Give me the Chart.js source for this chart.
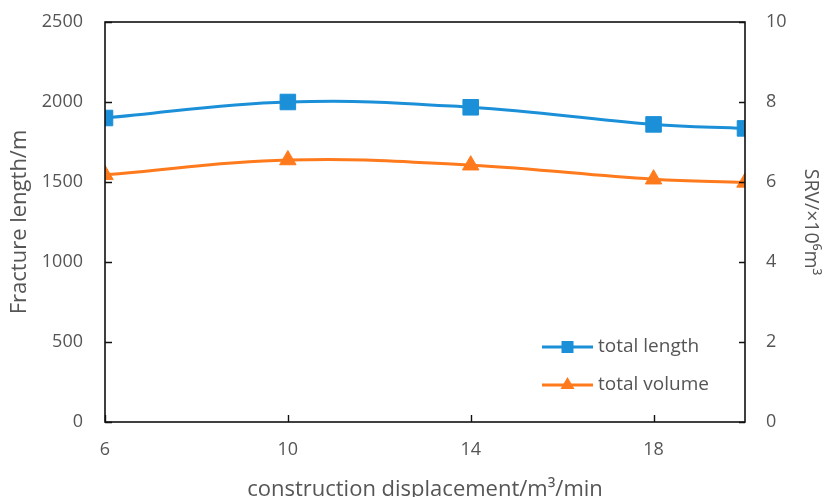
<!DOCTYPE html>
<html>
<head>
<meta charset="utf-8">
<script src="https://cdn.jsdelivr.net/npm/chart.js@4/dist/chart.umd.min.js"></script>
<style>
  html, body { margin: 0; padding: 0; background: #fff; }
  #wrap { width: 825px; height: 497px; }
</style>
</head>
<body>
<div id="wrap"><canvas id="c" width="825" height="497"></canvas></div>
<script>
// construction displacement (m³/min)
const displacement = [6, 10, 14, 18, 20];
// total fracture length (m), left axis
const totalLength = [1900, 2000, 1967, 1860, 1835];
// total stimulated volume (×10⁶ m³), right axis
const totalVolume = [6.18, 6.55, 6.42, 6.07, 5.99];

const xTicks = [6, 10, 14, 18];
const yTicks = [0, 500, 1000, 1500, 2000, 2500];
const y1Ticks = [0, 2, 4, 6, 8, 10];

const labelColor = '#555555';
const blue = '#1b90d8';
const orange = '#ff7a1c';
const FONT = 'Open Sans';

// Frame, inward tick marks and the inline legend
const framePlugin = {
  id: 'frame',
  afterDatasetsDraw(chart) {
    const { ctx, chartArea: a, scales } = chart;
    ctx.save();
    ctx.strokeStyle = '#111';
    ctx.lineWidth = 1.6;
    ctx.strokeRect(a.left, a.top, a.right - a.left, a.bottom - a.top);
    ctx.lineWidth = 1.4;
    ctx.beginPath();
    xTicks.forEach(v => {
      const px = Math.round(scales.x.getPixelForValue(v)) + 0.5;
      ctx.moveTo(px, a.bottom); ctx.lineTo(px, a.bottom - 7);
    });
    yTicks.forEach(v => {
      const py = Math.round(scales.y.getPixelForValue(v)) + 0.5;
      ctx.moveTo(a.left, py); ctx.lineTo(a.left + 7, py);
    });
    y1Ticks.forEach(v => {
      const py = Math.round(scales.y1.getPixelForValue(v)) + 0.5;
      ctx.moveTo(a.right, py); ctx.lineTo(a.right - 6, py);
    });
    ctx.stroke();

    // legend
    const rows = [{ ds: chart.data.datasets[0], y: 347 }, { ds: chart.data.datasets[1], y: 385 }];
    rows.forEach(r => {
      ctx.strokeStyle = r.ds.borderColor;
      ctx.lineWidth = 3;
      ctx.beginPath();
      ctx.moveTo(542, r.y); ctx.lineTo(593, r.y);
      ctx.stroke();
      ctx.fillStyle = r.ds.backgroundColor;
      ctx.beginPath();
      if (r.ds.pointStyle === 'rect') {
        ctx.rect(561.5, r.y - 6, 12, 12);
      } else {
        ctx.moveTo(567.5, r.y - 8); ctx.lineTo(574.5, r.y + 4); ctx.lineTo(560.5, r.y + 4); ctx.closePath();
      }
      ctx.fill();
      ctx.fillStyle = labelColor;
      ctx.font = '19px "' + FONT + '"';
      ctx.textBaseline = 'middle';
      ctx.textAlign = 'left';
      ctx.fillText(r.ds.label, 598, r.y);
    });
    ctx.restore();
  }
};

const plain = v => String(v);

new Chart(document.getElementById('c'), {
  type: 'line',
  data: {
    datasets: [
      {
        label: 'total length',
        data: displacement.map((x, i) => ({ x, y: totalLength[i] })),
        yAxisID: 'y',
        borderColor: blue,
        backgroundColor: blue,
        borderWidth: 3,
        pointStyle: 'rect',
        pointRadius: 11,
        pointBorderWidth: 1,
        tension: 0.4
      },
      {
        label: 'total volume',
        data: displacement.map((x, i) => ({ x, y: totalVolume[i] })),
        yAxisID: 'y1',
        borderColor: orange,
        backgroundColor: orange,
        borderWidth: 3,
        pointStyle: 'triangle',
        pointRadius: 9.5,
        pointBorderWidth: 1,
        tension: 0.4
      }
    ]
  },
  options: {
    responsive: false,
    animation: false,
    layout: { padding: { top: 22, left: 0, right: 0, bottom: 0 } },
    plugins: { legend: { display: false }, tooltip: { enabled: false } },
    scales: {
      x: {
        type: 'linear', min: 6, max: 20,
        afterBuildTicks: s => { s.ticks = xTicks.map(v => ({ value: v })); },
        afterFit: s => { s.height = 75; },
        grid: { display: false, drawTicks: false },
        border: { display: false },
        ticks: { color: labelColor, font: { family: FONT, size: 18 }, padding: 17, maxRotation: 0, callback: plain },
        title: {
          display: true, text: 'construction displacement/m³/min',
          color: labelColor, font: { family: FONT, size: 22 },
          padding: { top: 0, bottom: -6 }
        }
      },
      y: {
        position: 'left', min: 0, max: 2500,
        afterBuildTicks: s => { s.ticks = yTicks.map(v => ({ value: v })); },
        afterFit: s => { s.width = 105; },
        grid: { display: false, drawTicks: true, tickLength: 22 },
        border: { display: false },
        ticks: { color: labelColor, font: { family: FONT, size: 18 }, padding: 0, callback: plain },
        title: {
          display: true, text: 'Fracture length/m',
          color: labelColor, font: { family: FONT, size: 22 },
          padding: { top: 7, bottom: 0 }
        }
      },
      y1: {
        position: 'right', min: 0, max: 10,
        afterBuildTicks: s => { s.ticks = y1Ticks.map(v => ({ value: v })); },
        afterFit: s => { s.width = 80; },
        grid: { display: false, drawTicks: true, tickLength: 21 },
        border: { display: false },
        ticks: { color: labelColor, font: { family: FONT, size: 18 }, padding: 0, callback: plain },
        title: {
          display: true, text: 'SRV/×10⁶m³',
          color: labelColor, font: { family: FONT, size: 19.5 },
          padding: { top: 3, bottom: 0 }
        }
      }
    }
  },
  plugins: [framePlugin]
});
</script>
</body>
</html>
